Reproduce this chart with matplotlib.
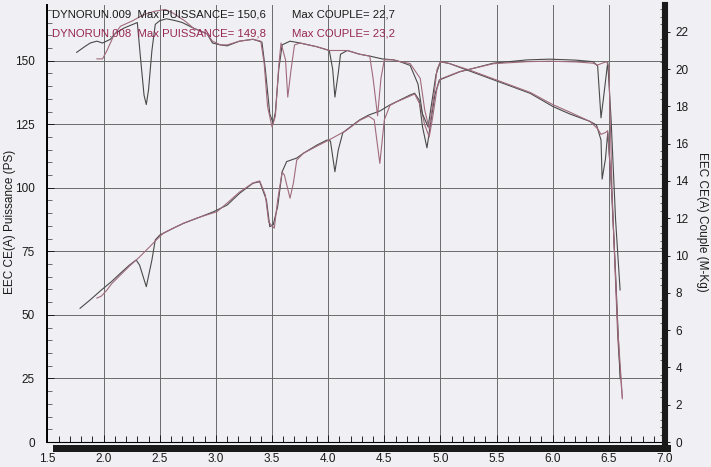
import matplotlib
matplotlib.use("Agg")
import matplotlib.pyplot as plt
from matplotlib.patches import Rectangle
from matplotlib.ticker import MultipleLocator, FormatStrFormatter

# ── data (rpm x1000) ─────────────────────────────────────────────────
rpm_pwr_009 = [1.79, 1.88, 1.98, 2.07, 2.15, 2.23, 2.29, 2.32, 2.38, 2.43, 2.46,
               2.50, 2.62, 2.71, 2.83, 2.98, 3.10, 3.21, 3.33, 3.39, 3.45, 3.48,
               3.51, 3.55, 3.59, 3.63, 3.72, 3.78, 3.90, 3.99, 4.02, 4.06, 4.09,
               4.13, 4.16, 4.28, 4.36, 4.46, 4.55, 4.61, 4.73, 4.77, 4.81, 4.84,
               4.88, 4.91, 4.95, 4.99, 5.17, 5.47, 5.77, 5.97, 6.21, 6.36, 6.40,
               6.43, 6.45, 6.49, 6.52, 6.56, 6.60]
pwr_009 = [52.6, 55.9, 59.8, 63.1, 66.4, 69.6, 71.6, 69.6, 61.1, 71.6, 79.5,
           81.4, 84.1, 86.0, 88.0, 90.6, 93.2, 97.8, 101.8, 102.4, 95.2, 84.7,
           85.4, 92.6, 106.3, 110.3, 111.7, 113.6, 116.8, 118.8, 118.4, 106.3, 114.9,
           121.6, 122.7, 126.7, 128.6, 130.2, 132.6, 133.9, 136.5, 137.2, 134.5, 124.0,
           115.7, 124.7, 136.5, 142.4, 145.6, 149.0, 150.3, 150.6, 150.2, 149.6, 147.9,
           127.5, 134.5, 149.4, 126.7, 87.3, 59.8]

rpm_trq_009 = [1.76, 1.83, 1.88, 1.94, 1.99, 2.06, 2.10, 2.18, 2.26, 2.30, 2.33,
               2.36, 2.38, 2.40, 2.43, 2.46, 2.50, 2.56, 2.64, 2.70, 2.80, 2.92,
               2.97, 3.04, 3.10, 3.21, 3.33, 3.41, 3.44, 3.48, 3.51, 3.53, 3.56,
               3.59, 3.66, 3.75, 3.90, 4.01, 4.04, 4.06, 4.09, 4.11, 4.17, 4.28,
               4.37, 4.48, 4.58, 4.64, 4.73, 4.80, 4.84, 4.89, 4.92, 4.96, 5.00,
               5.08, 5.26, 5.53, 5.80, 6.00, 6.15, 6.33, 6.39, 6.43, 6.44, 6.47,
               6.49, 6.52, 6.56, 6.60]
trq_009 = [20.9, 21.2, 21.4, 21.5, 21.4, 21.6, 21.9, 22.2, 22.4, 22.5, 20.5,
           18.6, 18.1, 18.9, 21.0, 22.4, 22.6, 22.7, 22.6, 22.5, 22.2, 21.9,
           21.4, 21.3, 21.25, 21.5, 21.6, 21.45, 20.0, 17.6, 17.1, 17.7, 20.0,
           21.3, 21.5, 21.4, 21.2, 21.0, 20.0, 18.5, 19.8, 20.8, 21.0, 20.8,
           20.7, 20.55, 20.5, 20.4, 20.2, 19.2, 17.6, 16.9, 18.1, 19.7, 20.4,
           20.3, 19.9, 19.3, 18.7, 18.0, 17.6, 17.2, 17.0, 16.2, 14.1, 15.2,
           16.6, 14.0, 9.0, 3.4]

rpm_pwr_008 = [1.94, 1.98, 2.03, 2.07, 2.15, 2.23, 2.32, 2.41, 2.47, 2.53, 2.62,
               2.71, 2.83, 3.01, 3.10, 3.21, 3.33, 3.39, 3.44, 3.47, 3.52, 3.55,
               3.59, 3.61, 3.66, 3.69, 3.72, 3.78, 3.90, 3.99, 4.16, 4.28, 4.36,
               4.41, 4.46, 4.50, 4.55, 4.61, 4.73, 4.77, 4.82, 4.86, 4.90, 4.93,
               4.97, 5.00, 5.17, 5.47, 5.77, 5.97, 6.21, 6.36, 6.40, 6.44, 6.48,
               6.50, 6.53, 6.58, 6.62]
pwr_008 = [56.6, 57.4, 59.8, 62.2, 65.7, 69.2, 72.8, 76.8, 79.5, 82.1, 84.1,
           86.0, 88.1, 90.6, 94.0, 98.3, 101.9, 102.7, 97.2, 86.5, 84.1, 95.2,
           106.2, 105.0, 95.9, 101.8, 110.9, 113.6, 116.4, 118.4, 122.5, 126.5, 128.2,
           126.7, 109.6, 126.7, 132.4, 133.8, 136.1, 136.9, 132.6, 124.7, 120.0, 127.5,
           139.3, 142.8, 145.7, 148.8, 149.6, 149.8, 149.5, 149.0, 148.3, 149.0, 149.6,
           147.6, 96.5, 40.0, 17.0]

rpm_trq_008 = [1.94, 1.99, 2.03, 2.09, 2.15, 2.26, 2.35, 2.45, 2.55, 2.62, 2.72,
               2.80, 2.92, 2.97, 3.04, 3.10, 3.21, 3.33, 3.40, 3.43, 3.46, 3.50,
               3.53, 3.56, 3.58, 3.62, 3.64, 3.67, 3.70, 3.75, 3.90, 4.01, 4.17,
               4.28, 4.37, 4.40, 4.44, 4.47, 4.50, 4.58, 4.64, 4.73, 4.82, 4.86,
               4.90, 4.94, 4.97, 5.00, 5.08, 5.26, 5.53, 5.80, 6.00, 6.15, 6.33,
               6.40, 6.43, 6.47, 6.49, 6.53, 6.58, 6.62]
trq_008 = [20.55, 20.55, 21.0, 21.8, 22.3, 22.6, 22.9, 23.1, 23.2, 23.0, 22.6,
           22.2, 21.9, 21.5, 21.3, 21.3, 21.5, 21.6, 21.5, 20.3, 18.0, 16.9,
           17.5, 20.2, 21.4, 20.5, 18.5, 20.0, 21.3, 21.4, 21.2, 21.0, 21.0,
           20.8, 20.7, 19.5, 17.5, 19.5, 20.5, 20.5, 20.4, 20.3, 19.5, 17.8,
           16.8, 18.5, 20.0, 20.4, 20.3, 19.95, 19.35, 18.75, 18.1, 17.7, 17.2,
           16.8, 16.5, 16.6, 16.7, 13.0, 6.0, 2.4]

runs = ["DYNORUN.009", "DYNORUN.008"]
max_puissance = ["150,6", "149,8"]
max_couple = ["22,7", "23,2"]

x_ticks = [1.5, 2.0, 2.5, 3.0, 3.5, 4.0, 4.5, 5.0, 5.5, 6.0, 6.5, 7.0]
pwr_ticks = [0, 25, 50, 75, 100, 125, 150]
trq_ticks = [0, 2, 4, 6, 8, 10, 12, 14, 16, 18, 20, 22]

PAPER = "#f0f0f4"
INK = "#1a1a1a"
C009 = "#4a4a4a"
C008 = "#a06a7c"
TXT008 = "#962850"
FONT = "Liberation Sans"

plt.rcParams["font.family"] = [FONT, "DejaVu Sans"]

fig = plt.figure(figsize=(7.11, 4.67), dpi=100, facecolor=PAPER)
ax = fig.add_axes([0.0668, 0.0535, 0.8685, 0.9358], facecolor=PAPER)
ax2 = ax.twinx()

ax.set_xlim(1.5, 7.0)
ax.set_ylim(0, 171.9)
ax2.set_ylim(0, 23.44)

# grid of the dyno sheet
ax.set_xticks(x_ticks)
ax.set_yticks(pwr_ticks)
ax.xaxis.set_major_formatter(FormatStrFormatter("%.1f"))
ax.xaxis.set_minor_locator(MultipleLocator(0.1))
ax.yaxis.set_minor_locator(MultipleLocator(5))
ax.grid(True, which="major", color="#6a6a6a", lw=0.7)
ax.set_axisbelow(True)

ax2.set_yticks(trq_ticks)
ax2.yaxis.set_minor_locator(MultipleLocator(0.4))

# curves
lw = 0.8
ax.plot(rpm_pwr_009, pwr_009, color=C009, lw=lw)
ax.plot(rpm_pwr_008, pwr_008, color=C008, lw=lw)
ax2.plot(rpm_trq_009, trq_009, color=C009, lw=lw)
ax2.plot(rpm_trq_008, trq_008, color=C008, lw=lw)

# axes / frame styling
for a in (ax, ax2):
    a.spines["top"].set_visible(False)
ax.spines["right"].set_visible(False)
ax2.spines["left"].set_visible(False)
ax2.spines["bottom"].set_visible(False)
ax.spines["left"].set_linewidth(1.4)
ax.spines["bottom"].set_linewidth(0.8)
ax2.spines["right"].set_linewidth(4.4)
ax2.spines["right"].set_color(INK)

ax.tick_params(axis="x", which="major", direction="in", length=5, width=0.7,
               pad=8, labelsize=8.5, colors=INK)
ax.tick_params(axis="x", which="minor", direction="in", length=4, width=0.6)
ax.tick_params(axis="y", which="major", direction="in", length=5, width=0.7,
               pad=9, labelsize=8.5, colors=INK)
ax.tick_params(axis="y", which="minor", direction="in", length=3.5, width=0.6,
               color="#555555")
ax2.tick_params(axis="y", which="major", direction="out", length=3.5, width=0.7,
                pad=4, labelsize=8.5, colors=INK)
ax2.tick_params(axis="y", which="minor", direction="in", length=3.5, width=0.6,
                color="#555555")

# thick bottom bar of the printout
ax.add_patch(Rectangle((0.009, -0.023), 1.0, 0.016, transform=ax.transAxes,
                       facecolor=INK, edgecolor="none", clip_on=False))

fig.text(0.014, 0.525, "EEC CE(A) Puissance (PS)", rotation=90, fontsize=8.5,
         ha="center", va="center", color=INK)
fig.text(0.988, 0.525, "EEC CE(A) Couple (M-Kg)", rotation=270, fontsize=8.5,
         ha="center", va="center", color=INK)

# header lines
for i, (run, pmax, cmax, col) in enumerate(zip(runs, max_puissance, max_couple,
                                               [INK, TXT008])):
    y = 0.970 - i * 0.041
    fig.text(0.073, y, f"{run}  Max PUISSANCE= {pmax}", fontsize=8.2,
             color=col, va="center")
    fig.text(0.411, y, f"Max COUPLE= {cmax}", fontsize=8.2, color=col,
             va="center")

fig.savefig("out.png", dpi=100, facecolor=PAPER)
